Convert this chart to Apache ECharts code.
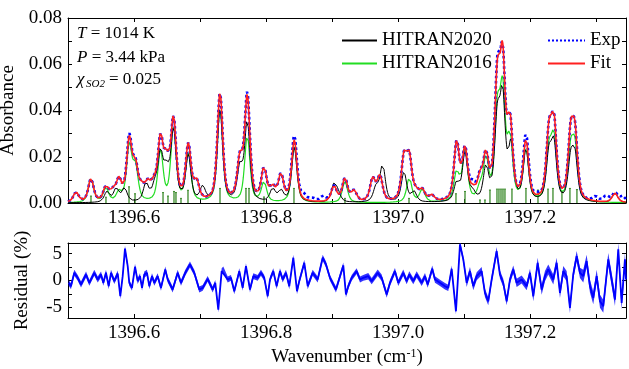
<!DOCTYPE html>
<html><head><meta charset="utf-8">
<script src="https://cdn.jsdelivr.net/npm/echarts@6/dist/echarts.min.js"></script>
<style>html,body{margin:0;padding:0;background:#fff}#c{width:629px;height:369px}</style>
</head><body><div id="c"></div>
<script>
// ---------------- data ----------------
const xRange = [1396.5, 1397.345];
const xLabelValues = [1396.6, 1396.8, 1397.0, 1397.2];
const xTickValues = [1396.5, 1396.6, 1396.7, 1396.8, 1396.9, 1397.0, 1397.1, 1397.2, 1397.3];
const absLabelValues = [0, 0.02, 0.04, 0.06, 0.08];
const absTickValues = [0, 0.01, 0.02, 0.03, 0.04, 0.05, 0.06, 0.07, 0.08];
const resLabelValues = [-5, 0, 5];
const resTickValues = [-5, -2.5, 0, 2.5, 5];

// line lists: [wavenumber (cm-1), peak absorbance]
const fitLines = [
  [1396.5121, 0.0043], [1396.5348, 0.0100], [1396.5575, 0.0062], [1396.5680, 0.0038],
  [1396.5772, 0.0088], [1396.5928, 0.0258], [1396.6022, 0.0140], [1396.6120, 0.0045],
  [1396.6211, 0.0065], [1396.6302, 0.0058], [1396.6401, 0.0255], [1396.6492, 0.0145],
  [1396.6598, 0.0345], [1396.6822, 0.0238], [1396.6946, 0.0078], [1396.7302, 0.0470],
  [1396.7604, 0.0170], [1396.7715, 0.0445], [1396.7968, 0.0140], [1396.8100, 0.0055],
  [1396.8225, 0.0112], [1396.8427, 0.0265], [1396.9028, 0.0068], [1396.9194, 0.0100],
  [1396.9331, 0.0046], [1396.9614, 0.0097], [1396.9724, 0.0108], [1397.0088, 0.0182],
  [1397.0168, 0.0178], [1397.0270, 0.0033], [1397.0365, 0.0046], [1397.0507, 0.0025],
  [1397.0886, 0.0250], [1397.1012, 0.0215], [1397.1128, 0.0033], [1397.1239, 0.0084],
  [1397.1330, 0.0180], [1397.1501, 0.0480], [1397.1582, 0.0555], [1397.1693, 0.0315],
  [1397.1935, 0.0255], [1397.2283, 0.0272], [1397.2359, 0.0318], [1397.2612, 0.0260],
  [1397.2677, 0.0262], [1397.3283, 0.0040]
];
const hitran2016Lines = [
  [1396.5348, 0.0105], [1396.5575, 0.0060], [1396.5772, 0.0040], [1396.5928, 0.0235],
  [1396.6022, 0.0140], [1396.6401, 0.0215], [1396.6598, 0.0320], [1396.6822, 0.0205],
  [1396.7302, 0.0405], [1396.7715, 0.0285], [1396.7968, 0.0085], [1396.8427, 0.0240],
  [1396.9194, 0.0090], [1397.0168, 0.0105], [1397.0365, 0.0055], [1397.0886, 0.0125],
  [1397.1012, 0.0215], [1397.1239, 0.0050], [1397.1330, 0.0172], [1397.1501, 0.0355],
  [1397.1582, 0.0440], [1397.1693, 0.0250], [1397.1935, 0.0222], [1397.2283, 0.0205],
  [1397.2359, 0.0255], [1397.2612, 0.0200], [1397.2677, 0.0212]
];
const hitran2020Lines = [
  [1396.5590, 0.0045], [1396.5730, 0.0058], [1396.5856, 0.0058], [1396.6181, 0.0076],
  [1396.6313, 0.0060], [1396.6401, 0.0195], [1396.6492, 0.0115], [1396.6598, 0.0300],
  [1396.6822, 0.0195], [1396.7040, 0.0060], [1396.7302, 0.0400], [1396.7604, 0.0140],
  [1396.7715, 0.0340], [1396.8100, 0.0056], [1396.8225, 0.0046], [1396.8427, 0.0235],
  [1396.9028, 0.0073], [1396.9090, 0.0033], [1396.9664, 0.0060], [1396.9765, 0.0158],
  [1397.0088, 0.0128], [1397.0239, 0.0044], [1397.0886, 0.0078], [1397.1012, 0.0205],
  [1397.1128, 0.0034], [1397.1330, 0.0142], [1397.1501, 0.0330], [1397.1582, 0.0420],
  [1397.1710, 0.0230], [1397.1935, 0.0218], [1397.2283, 0.0190], [1397.2359, 0.0230],
  [1397.2612, 0.0165], [1397.2677, 0.0180], [1397.3283, 0.0042]
];
// features of the measured spectrum that the fit misses
const expExtraLines = [
  [1396.5928, 0.0010], [1396.7715, 0.0012], [1396.8427, 0.0020], [1396.8570, 0.0022],
  [1396.8700, 0.0012], [1396.8861, 0.0022], [1397.1128, 0.0022], [1397.1501, 0.0015],
  [1397.1935, 0.0025], [1397.2100, 0.0012], [1397.2990, 0.0020], [1397.3150, 0.0025],
  [1397.3400, 0.0025]
];
// HITRAN line positions (stick markers)
const stickLines = [
  [1396.5348, 0.0030], [1396.5575, 0.0025], [1396.5924, 0.0070], [1396.6015, 0.0040],
  [1396.6439, 0.0045], [1396.6514, 0.0030], [1396.6605, 0.0050], [1396.6635, 0.0045],
  [1396.6711, 0.0020], [1396.6817, 0.0055], [1396.7302, 0.0063], [1396.7695, 0.0063],
  [1396.7741, 0.0063], [1396.7968, 0.0026], [1396.8422, 0.0063], [1396.9194, 0.0020],
  [1397.0164, 0.0020], [1397.0875, 0.0040], [1397.1012, 0.0050], [1397.1239, 0.0013],
  [1397.1314, 0.0013], [1397.1390, 0.0056], [1397.1496, 0.0060], [1397.1526, 0.0060],
  [1397.1557, 0.0060], [1397.1587, 0.0060], [1397.1617, 0.0060], [1397.1723, 0.0060],
  [1397.1935, 0.0063], [1397.2117, 0.0056], [1397.2269, 0.0060], [1397.2344, 0.0063],
  [1397.2480, 0.0050], [1397.2601, 0.0063], [1397.2707, 0.0058]
];
// residual (%) trace
const residualWn = [
  1396.5011, 1396.5045, 1396.5095, 1396.5147, 1396.5197, 1396.5273, 1396.5323, 1396.5398,
  1396.5450, 1396.5500, 1396.5535, 1396.5575, 1396.5616, 1396.5651, 1396.5701, 1396.5753,
  1396.5792, 1396.5828, 1396.5863, 1396.5904, 1396.5928, 1396.5969, 1396.6015, 1396.6055,
  1396.6090, 1396.6121, 1396.6155, 1396.6196, 1396.6231, 1396.6272, 1396.6307, 1396.6358,
  1396.6408, 1396.6473, 1396.6510, 1396.6585, 1396.6661, 1396.6711, 1396.6776, 1396.6847,
  1396.6912, 1396.6988, 1396.7040, 1396.7115, 1396.7191, 1396.7230, 1396.7276, 1396.7327,
  1396.7352, 1396.7418, 1396.7468, 1396.7518, 1396.7594, 1396.7645, 1396.7695, 1396.7756,
  1396.7806, 1396.7872, 1396.7922, 1396.7972, 1396.8024, 1396.8059, 1396.8109, 1396.8160,
  1396.8210, 1396.8251, 1396.8301, 1396.8351, 1396.8412, 1396.8468, 1396.8502, 1396.8578,
  1396.8630, 1396.8705, 1396.8781, 1396.8857, 1396.8907, 1396.8967, 1396.9058, 1396.9169,
  1396.9209, 1396.9244, 1396.9296, 1396.9371, 1396.9422, 1396.9471, 1396.9547, 1396.9599,
  1396.9690, 1396.9750, 1396.9826, 1396.9876, 1396.9951, 1397.0001, 1397.0077, 1397.0129,
  1397.0168, 1397.0229, 1397.0280, 1397.0356, 1397.0406, 1397.0447, 1397.0516, 1397.0557,
  1397.0633, 1397.0709, 1397.0759, 1397.0810, 1397.0875, 1397.0936, 1397.0986, 1397.1037,
  1397.1087, 1397.1137, 1397.1189, 1397.1264, 1397.1314, 1397.1364, 1397.1416, 1397.1491,
  1397.1541, 1397.1591, 1397.1643, 1397.1693, 1397.1743, 1397.1794, 1397.1870, 1397.1946,
  1397.1996, 1397.2046, 1397.2112, 1397.2173, 1397.2223, 1397.2273, 1397.2349, 1397.2400,
  1397.2450, 1397.2500, 1397.2551, 1397.2601, 1397.2651, 1397.2703, 1397.2753, 1397.2803,
  1397.2854, 1397.2904, 1397.2954, 1397.3006, 1397.3056, 1397.3106, 1397.3181, 1397.3233,
  1397.3283, 1397.3333, 1397.3384, 1397.3434, 1397.3450
];
const residualVal = [
  -0.44, -1.06, 1.44, 0.50, -0.75, 1.12, -0.44, 1.44,
  0.19, 1.12, -0.44, 1.44, -1.06, 1.44, -0.12, 1.31,
  -2.94, 0.81, 5.94, 2.69, -0.44, -1.38, 2.56, -0.12,
  0.81, -1.38, 1.12, 1.44, -1.06, 0.81, -0.44, 0.81,
  -1.38, 2.06, 0.19, -1.69, 1.44, -0.44, 1.44, 3.00,
  1.44, -1.69, -1.38, 0.31, -1.69, -0.44, -5.44, 1.75,
  2.06, 0.19, 0.50, -2.00, 1.75, -1.38, 2.69, -1.69,
  0.81, 0.50, 1.44, 0.50, -2.94, 0.19, 1.75, -1.06,
  1.75, 0.19, 1.44, -1.06, 4.25, -2.00, -0.12, 3.31,
  -1.06, 1.44, 0.19, 4.25, 3.00, 0.50, -1.69, 2.81,
  -2.62, -1.06, 0.50, 1.75, 0.19, 0.50, 0.81, -0.12,
  1.44, 0.50, -2.62, -0.44, 1.75, -0.44, 1.44, -0.12,
  1.12, -0.12, 1.12, -0.44, 0.81, -0.75, 2.19, 0.19,
  -0.44, -1.06, -1.38, 2.19, -5.75, 6.75, 3.94, -0.44,
  1.75, -1.06, 0.81, 1.75, -2.31, -3.88, 0.19, 5.50,
  1.12, -0.44, -3.88, 0.19, 2.06, -0.44, 0.19, -1.06,
  1.44, -2.94, 3.31, -1.69, 0.81, 2.06, 0.19, 3.31,
  -2.31, 1.75, 0.81, -5.12, 1.12, 4.56, 1.44, 0.81,
  3.62, -1.06, -3.25, 0.81, -3.88, -4.81, 3.94, 0.19,
  -3.56, 5.81, -4.19, 3.94, 0.19
];
// half-width of the noise band of the residual trace: [start wavenumber, half-width]
const residualNoise = [
  [1396.50, 0.55], [1396.95, 0.60], [1397.10, 0.75], [1397.20, 0.95], [1397.28, 1.20]
];

// ---------------- rendering helpers ----------------
const FONT = '"Liberation Serif", "Times New Roman", serif';
const HW = 0.0048, ETA = 0.55, STEP = 0.0005;
function shape(d) { const u = (d / HW) * (d / HW); return ETA / (1 + u) + (1 - ETA) * Math.exp(-Math.LN2 * u); }
function spectrum(lists) {
  const out = [];
  const n = Math.round((xRange[1] - xRange[0]) / STEP);
  for (let i = 0; i <= n; i++) {
    const x = xRange[0] + i * STEP;
    let y = 0;
    lists.forEach(list => list.forEach(([c, h]) => { y += h * shape(x - c); }));
    out.push([x, y]);
  }
  return out;
}
function noiseAt(w) { let h = residualNoise[0][1]; residualNoise.forEach(([s, v]) => { if (w >= s) h = v; }); return h; }

const fitData = spectrum([fitLines]);
const expData = spectrum([fitLines, expExtraLines]);
const h16Data = spectrum([hitran2016Lines]);
const h20Data = spectrum([hitran2020Lines]);
const resData = residualWn.map((w, i) => [w, residualVal[i]]);

const axisLineS = { show: true, onZero: false, lineStyle: { color: '#000', width: 1 } };
const lab = (show, vals, fmt, margin) => ({ show, customValues: vals, formatter: fmt, fontFamily: FONT, fontSize: 19, color: '#000', margin });
const tick = (vals) => ({ show: true, inside: true, length: 4, customValues: vals, lineStyle: { color: '#000', width: 1 } });

function xAxis(grid, pos, showLabel) {
  return { type: 'value', gridIndex: grid, position: pos, min: xRange[0], max: xRange[1],
    axisLine: axisLineS, axisTick: tick(xTickValues), splitLine: { show: false },
    axisLabel: lab(showLabel, xLabelValues, v => v.toFixed(1), 6) };
}
const legendCommon = { orient: 'vertical', itemHeight: 10, itemGap: 4, padding: 0,
  itemStyle: { opacity: 0 }, textStyle: { fontFamily: FONT, fontSize: 19, color: '#000' } };
const chart = echarts.init(document.getElementById('c'), null, { renderer: 'canvas' });
chart.setOption({
  animation: false,
  backgroundColor: '#fff',
  grid: [
    { left: 68, top: 18, width: 558, height: 185, containLabel: false, outerBoundsMode: 'none' },
    { left: 68, top: 243, width: 558, height: 75, containLabel: false, outerBoundsMode: 'none' }
  ],
  xAxis: [
    xAxis(0, 'bottom', true),
    xAxis(0, 'top', false),
    Object.assign(xAxis(1, 'bottom', true), {
      name: '{a|Wavenumber (cm}{s|-1}{a|)}', nameLocation: 'middle', nameGap: 30,
      nameTextStyle: { rich: {
        a: { fontFamily: FONT, fontSize: 19, color: '#000' },
        s: { fontFamily: FONT, fontSize: 12, color: '#000', verticalAlign: 'top' } } }
    }),
    xAxis(1, 'top', false)
  ],
  yAxis: [
    { type: 'value', gridIndex: 0, position: 'left', min: 0, max: 0.08,
      axisLine: axisLineS, axisTick: tick(absTickValues), splitLine: { show: false },
      axisLabel: lab(true, absLabelValues, v => v.toFixed(2), 6),
      name: 'Absorbance', nameLocation: 'middle', nameGap: 42,
      nameTextStyle: { fontFamily: FONT, fontSize: 19, color: '#000' } },
    { type: 'value', gridIndex: 0, position: 'right', min: 0, max: 0.08,
      axisLine: axisLineS, axisTick: tick(absTickValues), splitLine: { show: false },
      axisLabel: { show: false } },
    { type: 'value', gridIndex: 1, position: 'left', min: -7, max: 7,
      axisLine: axisLineS, axisTick: tick(resTickValues), splitLine: { show: false },
      axisLabel: lab(true, resLabelValues, v => String(v), 6),
      name: 'Residual (%)', nameLocation: 'middle', nameGap: 36,
      nameTextStyle: { fontFamily: FONT, fontSize: 19, color: '#000' } },
    { type: 'value', gridIndex: 1, position: 'right', min: -7, max: 7,
      axisLine: axisLineS, axisTick: tick(resTickValues), splitLine: { show: false },
      axisLabel: { show: false } }
  ],
  legend: [
    Object.assign({ data: ['HITRAN2020', 'HITRAN2016'], left: 341, top: 31, itemWidth: 35 }, legendCommon),
    Object.assign({ data: ['Exp', 'Fit'], left: 547, top: 31, itemWidth: 37 }, legendCommon)
  ],
  graphic: [
    { type: 'text', left: 77, top: 25, style: { text: '{i|T} = 1014 K', fontFamily: FONT, fontSize: 17, fill: '#000',
      rich: { i: { fontFamily: FONT, fontSize: 17, fontStyle: 'italic' } } } },
    { type: 'text', left: 77, top: 49, style: { text: '{i|P} = 3.44 kPa', fontFamily: FONT, fontSize: 17, fill: '#000',
      rich: { i: { fontFamily: FONT, fontSize: 17, fontStyle: 'italic' } } } },
    { type: 'text', left: 77, top: 71, style: { text: 'χ', fontFamily: FONT, fontSize: 17, fontStyle: 'italic', fill: '#000' } },
    { type: 'text', left: 86, top: 79, style: { text: 'SO2', fontFamily: FONT, fontSize: 11, fontStyle: 'italic', fill: '#000' } },
    { type: 'text', left: 109, top: 71, style: { text: '= 0.025', fontFamily: FONT, fontSize: 17, fill: '#000' } }
  ],
  series: [
    { name: 'HITRAN2016', type: 'line', xAxisIndex: 0, yAxisIndex: 0, data: h16Data, symbol: 'none', showSymbol: false,
      color: '#22dd22', lineStyle: { color: '#22dd22', width: 1.2 } },
    { name: 'lines', type: 'custom', xAxisIndex: 0, yAxisIndex: 0, data: stickLines, encode: { x: 0, y: 1 },
      renderItem: (params, api) => {
        const p0 = api.coord([api.value(0), 0]), p1 = api.coord([api.value(0), api.value(1)]);
        return { type: 'group', children: [
          { type: 'line', shape: { x1: p0[0], y1: p0[1], x2: p1[0], y2: p1[1] }, style: { stroke: '#3a8a2a', lineWidth: 1.3 } },
          { type: 'line', shape: { x1: p1[0] - 1, y1: p1[1], x2: p1[0] + 1, y2: p1[1] }, style: { stroke: '#3a8a2a', lineWidth: 1 } }
        ] };
      } },
    { name: 'HITRAN2020', type: 'line', xAxisIndex: 0, yAxisIndex: 0, data: h20Data, symbol: 'none', showSymbol: false,
      color: '#000', lineStyle: { color: '#000', width: 1 } },
    { name: 'Exp', type: 'line', xAxisIndex: 0, yAxisIndex: 0, data: expData, symbol: 'none', showSymbol: false,
      color: '#0000ff', lineStyle: { color: '#0000ff', width: 2.6, type: 'dotted' } },
    { name: 'Fit', type: 'line', xAxisIndex: 0, yAxisIndex: 0, data: fitData, symbol: 'none', showSymbol: false,
      color: '#ff2020', lineStyle: { color: '#ff2020', width: 1.6 } },
    { name: 'band', type: 'custom', xAxisIndex: 2, yAxisIndex: 2, data: [[1396.9, 0]], encode: { x: 0, y: 1 },
      renderItem: (params, api) => {
        const up = [], dn = [];
        residualWn.forEach((w, i) => {
          const h = noiseAt(w);
          up.push(api.coord([w, residualVal[i] + h]));
          dn.push(api.coord([w, residualVal[i] - h]));
        });
        const cs = params.coordSys;
        return { type: 'group',
          clipPath: { type: 'rect', shape: { x: cs.x, y: cs.y, width: cs.width, height: cs.height } },
          children: [{ type: 'polygon', shape: { points: up.concat(dn.reverse()) }, style: { fill: '#1010ff', opacity: 0.85 } }] };
      } },
    { name: 'Residual', type: 'line', xAxisIndex: 2, yAxisIndex: 2, data: resData, symbol: 'none', showSymbol: false,
      color: '#0000ff', lineStyle: { color: '#0000ff', width: 1.8 } }
  ]
});
</script></body></html>
